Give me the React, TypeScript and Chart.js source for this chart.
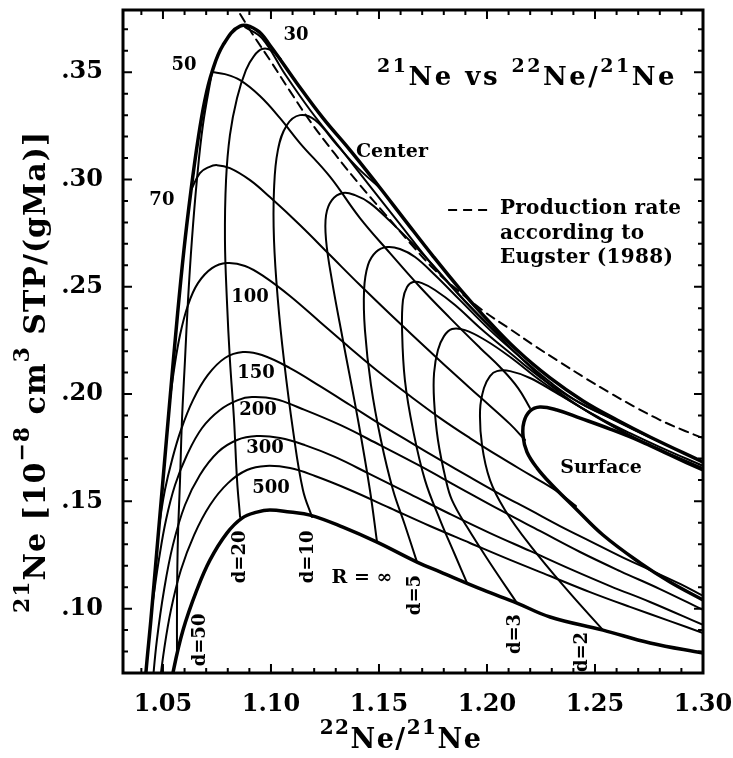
import { useEffect, useRef } from 'react';
import { Chart, registerables } from 'chart.js';

Chart.register(...registerables);

const SERIF = '"DejaVu Serif", "Liberation Serif", serif';

// Axis ranges and tick labels
const xRange = [1.0315, 1.3];
const yRange = [0.07, 0.379];
const xTickValues = [1.05, 1.1, 1.15, 1.2, 1.25, 1.3];
const xTickLabels = ['1.05', '1.10', '1.15', '1.20', '1.25', '1.30'];
const yTickValues = [0.1, 0.15, 0.2, 0.25, 0.3, 0.35];
const yTickLabels = ['.10', '.15', '.20', '.25', '.30', '.35'];

type Pt = [number, number];

// [22Ne/21Ne, 21Ne production rate]
const centerLine: Pt[] = [
  [1.0417, 0.0621], [1.0421, 0.07], [1.0444, 0.0947], [1.0472, 0.1273], [1.05, 0.1599],
  [1.0532, 0.1972], [1.0565, 0.2345], [1.0597, 0.2671], [1.063, 0.2951], [1.0662, 0.3184],
  [1.0694, 0.337], [1.0727, 0.3501], [1.0778, 0.3626], [1.0857, 0.3715], [1.0935, 0.3696],
  [1.0995, 0.3626], [1.112, 0.3449], [1.1241, 0.3286], [1.1366, 0.3137], [1.1491, 0.2979],
  [1.162, 0.2811], [1.175, 0.2643], [1.1875, 0.2489], [1.1982, 0.2368], [1.2139, 0.2205],
  [1.2292, 0.2075], [1.2445, 0.1968], [1.2602, 0.1879], [1.2755, 0.18], [1.3, 0.1683],
];

const surfaceLine: Pt[] = [
  [1.3, 0.1646], [1.2847, 0.1716], [1.2709, 0.1781], [1.257, 0.1837], [1.2431, 0.1888],
  [1.2324, 0.1926], [1.2245, 0.194], [1.2199, 0.1921], [1.2171, 0.187], [1.2167, 0.1804],
  [1.2185, 0.173], [1.2232, 0.1655], [1.2301, 0.1576], [1.2408, 0.1469], [1.2537, 0.1343],
  [1.2709, 0.1213], [1.2847, 0.1124], [1.3, 0.104],
];

const radiusInf: Pt[] = [
  [1.0537, 0.063], [1.0546, 0.07], [1.0593, 0.09], [1.0657, 0.1087], [1.0718, 0.1227],
  [1.0796, 0.1352], [1.0866, 0.1422], [1.0935, 0.145], [1.0995, 0.146], [1.1088, 0.145],
  [1.1181, 0.1436], [1.1333, 0.138], [1.1491, 0.131], [1.1676, 0.1217], [1.1783, 0.1171],
  [1.1982, 0.1087], [1.2139, 0.1026], [1.2292, 0.0961], [1.2537, 0.09], [1.2755, 0.084],
  [1.3, 0.0793],
];

const radius500: Pt[] = [
  [1.0481, 0.0621], [1.0505, 0.0807], [1.0537, 0.0994], [1.0583, 0.118], [1.0644, 0.1343],
  [1.0718, 0.1483], [1.0801, 0.1585], [1.0889, 0.1646], [1.0977, 0.1665], [1.1088, 0.1655],
  [1.1204, 0.1618], [1.1366, 0.1553], [1.1551, 0.1469], [1.1736, 0.1385], [1.1921, 0.1306],
  [1.2107, 0.1227], [1.2292, 0.1152], [1.2477, 0.1077], [1.2662, 0.1008], [1.2847, 0.0942],
  [1.3, 0.0886],
];

const radius300: Pt[] = [
  [1.0449, 0.0621], [1.0472, 0.0854], [1.0505, 0.1087], [1.0546, 0.1296], [1.0602, 0.1483],
  [1.0671, 0.1623], [1.0755, 0.173], [1.0843, 0.1786], [1.0935, 0.1804], [1.1042, 0.1795],
  [1.1157, 0.1762], [1.1296, 0.1707], [1.1458, 0.1627], [1.1644, 0.1534], [1.1829, 0.1441],
  [1.2014, 0.1352], [1.2199, 0.1269], [1.2384, 0.1185], [1.257, 0.1105], [1.2755, 0.1031],
  [1.3, 0.0924],
];

const radius200: Pt[] = [
  [1.0454, 0.104], [1.0481, 0.1227], [1.0514, 0.1413], [1.0556, 0.1576], [1.0611, 0.1716],
  [1.0681, 0.1842], [1.0764, 0.1926], [1.0847, 0.1972], [1.0912, 0.1986], [1.1019, 0.1977],
  [1.1134, 0.1935], [1.132, 0.1856], [1.1505, 0.1762], [1.169, 0.1665], [1.1875, 0.1562],
  [1.206, 0.146], [1.2245, 0.1362], [1.2431, 0.1264], [1.2616, 0.1175], [1.2801, 0.1091],
  [1.3, 0.0994],
];

const radius150: Pt[] = [
  [1.0486, 0.1413], [1.0509, 0.1553], [1.0542, 0.1693], [1.0583, 0.1832], [1.0639, 0.1972],
  [1.0708, 0.2089], [1.0787, 0.2168], [1.087, 0.2196], [1.0958, 0.2182], [1.1088, 0.2121],
  [1.1227, 0.2037], [1.1366, 0.1949], [1.1505, 0.186], [1.1644, 0.1776], [1.1783, 0.1693],
  [1.1921, 0.1613], [1.206, 0.1534], [1.2199, 0.146], [1.2338, 0.1385], [1.2477, 0.1315],
  [1.2616, 0.1245], [1.2755, 0.118], [1.2894, 0.1115], [1.3, 0.1059],
];

const radius100: Pt[] = [
  [1.0532, 0.1972], [1.0551, 0.2112], [1.0579, 0.2275], [1.0616, 0.2415], [1.0662, 0.2517],
  [1.0727, 0.2587], [1.0796, 0.2611], [1.088, 0.2597], [1.0972, 0.2545], [1.1088, 0.2457],
  [1.1227, 0.2336], [1.1366, 0.2215], [1.1505, 0.2098], [1.1644, 0.1991], [1.1783, 0.1888],
  [1.1921, 0.1795], [1.206, 0.1707], [1.2199, 0.1623], [1.2315, 0.1553], [1.2412, 0.1478],
];

const radius70: Pt[] = [
  [1.063, 0.2951], [1.0671, 0.303], [1.0713, 0.3058], [1.075, 0.3067], [1.081, 0.3053],
  [1.0903, 0.2997], [1.0995, 0.2918], [1.1134, 0.2788], [1.1273, 0.2648], [1.1412, 0.2508],
  [1.1551, 0.2373], [1.169, 0.2242], [1.1829, 0.2112], [1.1968, 0.1986], [1.2107, 0.186],
  [1.2176, 0.1786],
];

const radius50: Pt[] = [
  [1.0727, 0.3501], [1.0787, 0.3491], [1.0857, 0.3463], [1.0949, 0.3389], [1.1042, 0.3286],
  [1.1134, 0.317], [1.1273, 0.3013], [1.1412, 0.282], [1.1551, 0.2657], [1.169, 0.2499],
  [1.1829, 0.2354], [1.1968, 0.2215], [1.206, 0.2126], [1.2144, 0.2028], [1.2199, 0.1935],
];

const radius30: Pt[] = [
  [1.088, 0.371], [1.0958, 0.3659], [1.1065, 0.3491], [1.1181, 0.3324], [1.132, 0.3147],
  [1.1458, 0.2969], [1.1597, 0.2792], [1.1736, 0.2615], [1.1875, 0.2457], [1.2014, 0.2312],
  [1.2153, 0.2173], [1.2292, 0.2042], [1.2431, 0.194], [1.257, 0.1856], [1.2671, 0.18],
];

const depth50: Pt[] = [
  [1.0565, 0.0779], [1.0565, 0.104], [1.0569, 0.132], [1.0579, 0.1599], [1.0588, 0.1879],
  [1.0602, 0.2159], [1.0616, 0.2438], [1.0634, 0.2718], [1.0657, 0.2997], [1.0685, 0.3254],
  [1.0727, 0.3501],
];

const depth20: Pt[] = [
  [1.0857, 0.1427], [1.0843, 0.1599], [1.0829, 0.1879], [1.081, 0.2159], [1.0796, 0.2438],
  [1.0787, 0.2718], [1.0792, 0.2997], [1.081, 0.3207], [1.0843, 0.338], [1.0884, 0.351],
  [1.0921, 0.3575], [1.0958, 0.3608], [1.1, 0.3603], [1.1046, 0.3561],
];

const depth10: Pt[] = [
  [1.119, 0.1427], [1.1148, 0.1553], [1.1102, 0.1832], [1.106, 0.2159], [1.1032, 0.2438],
  [1.1014, 0.2718], [1.1014, 0.2951], [1.1032, 0.3137], [1.1074, 0.3254], [1.1134, 0.33],
  [1.1204, 0.3277], [1.1306, 0.316], [1.1403, 0.3053], [1.1505, 0.296],
];

const depth7: Pt[] = [
  [1.1491, 0.131], [1.1458, 0.1553], [1.1403, 0.1879], [1.1333, 0.2252], [1.1282, 0.2531],
  [1.1255, 0.2718], [1.1255, 0.2834], [1.1282, 0.2904], [1.1333, 0.2937], [1.1389, 0.2927],
  [1.1458, 0.289], [1.1551, 0.2806], [1.1667, 0.269], [1.1783, 0.2564], [1.1898, 0.2434],
  [1.2023, 0.2308], [1.2153, 0.2191],
];

const depth5: Pt[] = [
  [1.1676, 0.1217], [1.162, 0.139], [1.1565, 0.1553], [1.1509, 0.1786], [1.1463, 0.2042],
  [1.1435, 0.2298], [1.1431, 0.2485], [1.1449, 0.2601], [1.1486, 0.2662], [1.1537, 0.2685],
  [1.1597, 0.2676], [1.1667, 0.2639], [1.1759, 0.2555], [1.1875, 0.2438], [1.2014, 0.2298],
  [1.2153, 0.2173], [1.2292, 0.2056], [1.2431, 0.1958], [1.2593, 0.1879],
];

const depth4: Pt[] = [
  [1.1908, 0.1119], [1.1852, 0.125], [1.1783, 0.1413], [1.1713, 0.1599], [1.1658, 0.1832],
  [1.162, 0.2065], [1.1607, 0.2298], [1.1611, 0.2438], [1.163, 0.2499], [1.1658, 0.2522],
  [1.1699, 0.2517], [1.1759, 0.2485], [1.1852, 0.2415], [1.1968, 0.2308], [1.2107, 0.2191],
  [1.2245, 0.2079], [1.2384, 0.1986], [1.2523, 0.1912], [1.2662, 0.1842], [1.2801, 0.1776],
];

const depth3: Pt[] = [
  [1.2139, 0.1026], [1.2014, 0.1213], [1.1908, 0.138], [1.1838, 0.1506], [1.181, 0.1599],
  [1.1773, 0.1786], [1.1755, 0.1972], [1.1755, 0.2098], [1.1773, 0.2205], [1.1801, 0.227],
  [1.1838, 0.2303], [1.1898, 0.2298], [1.1991, 0.2252], [1.2107, 0.2173], [1.2245, 0.2065],
  [1.2384, 0.1968], [1.2523, 0.1888], [1.2662, 0.1818], [1.2801, 0.1753], [1.3, 0.1665],
];

const depth2: Pt[] = [
  [1.2537, 0.09], [1.2371, 0.1087], [1.2199, 0.1296], [1.2083, 0.146], [1.2014, 0.1599],
  [1.1977, 0.1762], [1.1968, 0.1926], [1.1986, 0.2028], [1.2014, 0.2084], [1.2046, 0.2107],
  [1.2107, 0.2107], [1.2199, 0.2075], [1.2315, 0.2009], [1.2454, 0.1926], [1.2593, 0.1846],
  [1.2732, 0.1772], [1.2871, 0.1711], [1.3, 0.1655],
];

// Production rate according to Eugster (1988)
const eugsterLine: Pt[] = [
  [1.0857, 0.3771], [1.0912, 0.3682], [1.0995, 0.3557], [1.1088, 0.3412], [1.1181, 0.3272],
  [1.1296, 0.3119], [1.1412, 0.2974], [1.1528, 0.2839], [1.1644, 0.2704], [1.1759, 0.2578],
  [1.1875, 0.2475], [1.1991, 0.2382], [1.2107, 0.2303], [1.2222, 0.2224], [1.2338, 0.2149],
  [1.2454, 0.2075], [1.257, 0.2005], [1.2685, 0.194], [1.2801, 0.1879], [1.2917, 0.1828],
  [1.3, 0.1795],
];

const radiusLabels = [
  { text: '30', x: 1.1116, y: 0.3673 },
  { text: '50', x: 1.0597, y: 0.3533 },
  { text: '70', x: 1.0495, y: 0.2904 },
  { text: '100', x: 1.0903, y: 0.2452 },
  { text: '150', x: 1.0931, y: 0.2098 },
  { text: '200', x: 1.094, y: 0.1926 },
  { text: '300', x: 1.0972, y: 0.1749 },
  { text: '500', x: 1.1, y: 0.1562 },
];

const curveNames = [
  { text: 'Center', x: 1.156, y: 0.3128 },
  { text: 'Surface', x: 1.2528, y: 0.1655 },
  { text: 'R = \u221e', x: 1.1421, y: 0.1143 },
];

const depthLabels = [
  { text: 'd=50', x: 1.0671, y: 0.0854 },
  { text: 'd=20', x: 1.0857, y: 0.1241 },
  { text: 'd=10', x: 1.1171, y: 0.1241 },
  { text: 'd=5', x: 1.1667, y: 0.1063 },
  { text: 'd=3', x: 1.213, y: 0.0882 },
  { text: 'd=2', x: 1.244, y: 0.0798 },
];

const legendLines = ['Production rate', 'according to', 'Eugster (1988)'];
const legendAnchor = { x: 1.206, y: 0.2839 };
const legendSample = { x0: 1.182, x1: 1.2005, y: 0.2858 };
const titleAnchor = { x: 1.288, y: 0.344 };

type Seg = { t: string; sup?: boolean };
const titleSegs: Seg[] = [
  { t: '21', sup: true }, { t: 'Ne vs ' }, { t: '22', sup: true }, { t: 'Ne/' },
  { t: '21', sup: true }, { t: 'Ne' },
];
const xTitleSegs: Seg[] = [{ t: '22', sup: true }, { t: 'Ne/' }, { t: '21', sup: true }, { t: 'Ne' }];
const yTitleSegs: Seg[] = [
  { t: '21', sup: true }, { t: 'Ne [10' }, { t: '\u22128', sup: true }, { t: ' cm' },
  { t: '3', sup: true }, { t: ' STP/(gMa)]' },
];

const font = (size: number, weight = 'bold') => `${weight} ${size}px ${SERIF}`;

function drawRich(
  ctx: CanvasRenderingContext2D, segs: Seg[], x: number, y: number,
  size: number, supSize: number, align: 'left' | 'center' | 'right', spacing = 0,
) {
  (ctx as any).letterSpacing = `${spacing}px`;
  let total = 0;
  const widths = segs.map((s) => {
    ctx.font = font(s.sup ? supSize : size);
    const w = ctx.measureText(s.t).width;
    total += w;
    return w;
  });
  let cx = align === 'left' ? x : align === 'center' ? x - total / 2 : x - total;
  ctx.textAlign = 'left';
  ctx.textBaseline = 'alphabetic';
  segs.forEach((s, i) => {
    ctx.font = font(s.sup ? supSize : size);
    ctx.fillText(s.t, cx, s.sup ? y - size * 0.52 : y);
    cx += widths[i];
  });
  (ctx as any).letterSpacing = '0px';
}

const decorations = {
  id: 'decorations',
  afterDraw(chart: any) {
    const { ctx, chartArea: a } = chart;
    const xs = chart.scales.x;
    const ys = chart.scales.y;
    const px = (v: number) => xs.getPixelForValue(v);
    const py = (v: number) => ys.getPixelForValue(v);
    ctx.save();
    ctx.fillStyle = '#000';
    ctx.strokeStyle = '#000';

    // inward tick marks on all four sides
    ctx.lineWidth = 2;
    ctx.beginPath();
    for (let i = 104; i <= 130; i++) {
      const p = px(i / 100);
      const len = i % 5 === 0 ? 9 : 5;
      ctx.moveTo(p, a.bottom); ctx.lineTo(p, a.bottom - len);
      ctx.moveTo(p, a.top); ctx.lineTo(p, a.top + len);
    }
    for (let i = 8; i <= 37; i++) {
      const p = py(i / 100);
      const len = i % 5 === 0 ? 9 : 5;
      ctx.moveTo(a.left, p); ctx.lineTo(a.left + len, p);
      ctx.moveTo(a.right, p); ctx.lineTo(a.right - len, p);
    }
    ctx.stroke();

    // frame
    ctx.lineWidth = 3;
    ctx.strokeRect(a.left, a.top, a.right - a.left, a.bottom - a.top);

    // curve labels
    ctx.textAlign = 'center';
    ctx.textBaseline = 'middle';
    ctx.font = font(18);
    radiusLabels.forEach((l) => ctx.fillText(l.text, px(l.x), py(l.y)));
    ctx.font = font(19);
    curveNames.forEach((l) => ctx.fillText(l.text, px(l.x), py(l.y)));
    ctx.font = font(18);
    depthLabels.forEach((l) => {
      ctx.save();
      ctx.translate(px(l.x), py(l.y));
      ctx.rotate(-Math.PI / 2);
      ctx.fillText(l.text, 0, 0);
      ctx.restore();
    });

    // legend for the dashed curve
    ctx.lineWidth = 2;
    ctx.setLineDash([9, 6]);
    ctx.beginPath();
    ctx.moveTo(px(legendSample.x0), py(legendSample.y));
    ctx.lineTo(px(legendSample.x1), py(legendSample.y));
    ctx.stroke();
    ctx.setLineDash([]);
    ctx.textAlign = 'left';
    ctx.textBaseline = 'alphabetic';
    ctx.font = font(20);
    (ctx as any).letterSpacing = '0.3px';
    const lx = px(legendAnchor.x);
    const ly = py(legendAnchor.y);
    legendLines.forEach((t, i) => ctx.fillText(t, lx, ly + i * 24.5));
    (ctx as any).letterSpacing = '0px';

    // in-plot title
    drawRich(ctx, titleSegs, px(titleAnchor.x), py(titleAnchor.y), 26, 19, 'right', 2.5);

    // axis titles
    drawRich(ctx, xTitleSegs, (a.left + a.right) / 2 - 12, a.bottom + 75, 27, 20, 'center', 1.5);
    ctx.save();
    ctx.translate(45, 372);
    ctx.rotate(-Math.PI / 2);
    drawRich(ctx, yTitleSegs, 0, 0, 30, 22, 'center', 1);
    ctx.restore();

    ctx.restore();
  },
};

const curve = (pts: Pt[], width: number, dash: number[] = []) => ({
  data: pts.map(([x, y]) => ({ x, y })),
  borderColor: '#000',
  borderWidth: width,
  borderDash: dash,
  borderCapStyle: 'round' as const,
  borderJoinStyle: 'round' as const,
  pointRadius: 0,
  showLine: true,
  fill: false,
  tension: 0.4,
});

export default function App() {
  const ref = useRef<HTMLCanvasElement | null>(null);

  useEffect(() => {
    if (!ref.current) return;
    const tickFont = { family: SERIF, size: 24, weight: 'bold' as const };
    const chart = new Chart(ref.current, {
      type: 'scatter',
      data: {
        datasets: [
          curve(eugsterLine, 2, [9, 6]),
          curve(radius500, 2),
          curve(radius300, 2),
          curve(radius200, 2),
          curve(radius150, 2),
          curve(radius100, 2),
          curve(radius70, 2),
          curve(radius50, 2),
          curve(radius30, 2),
          curve(depth50, 2),
          curve(depth20, 2),
          curve(depth10, 2),
          curve(depth7, 2),
          curve(depth5, 2),
          curve(depth4, 2),
          curve(depth3, 2),
          curve(depth2, 2),
          curve(radiusInf, 3.5),
          curve(surfaceLine, 3.5),
          curve(centerLine, 3.5),
        ],
      },
      options: {
        animation: false,
        responsive: false,
        layout: { padding: { top: 10, right: 30, left: 0, bottom: 0 } },
        plugins: { legend: { display: false }, tooltip: { enabled: false } },
        scales: {
          x: {
            type: 'linear',
            min: xRange[0],
            max: xRange[1],
            grid: { display: false, drawTicks: false },
            border: { display: false },
            afterBuildTicks: (s: any) => { s.ticks = xTickValues.map((v) => ({ value: v })); },
            afterFit: (s: any) => {
              s.height = 85;
              s.paddingLeft = 0; s.paddingRight = 0; s.paddingTop = 0; s.paddingBottom = 0;
            },
            ticks: {
              autoSkip: false,
              maxRotation: 0,
              color: '#000',
              font: tickFont,
              padding: 17,
              callback: (_v: any, i: number) => xTickLabels[i],
            },
          },
          y: {
            type: 'linear',
            min: yRange[0],
            max: yRange[1],
            grid: { display: false, drawTicks: false },
            border: { display: false },
            afterBuildTicks: (s: any) => { s.ticks = yTickValues.map((v) => ({ value: v })); },
            afterFit: (s: any) => {
              s.width = 123;
              s.paddingLeft = 0; s.paddingRight = 0; s.paddingTop = 0; s.paddingBottom = 0;
            },
            ticks: {
              autoSkip: false,
              color: '#000',
              font: tickFont,
              padding: 20,
              callback: (_v: any, i: number) => yTickLabels[i],
            },
          },
        },
      },
      plugins: [decorations],
    });
    return () => chart.destroy();
  }, []);

  return (
    <div style={{ position: 'absolute', left: 0, top: 0, width: 733, height: 758, background: '#fff' }}>
      <canvas ref={ref} width={733} height={758} />
    </div>
  );
}
